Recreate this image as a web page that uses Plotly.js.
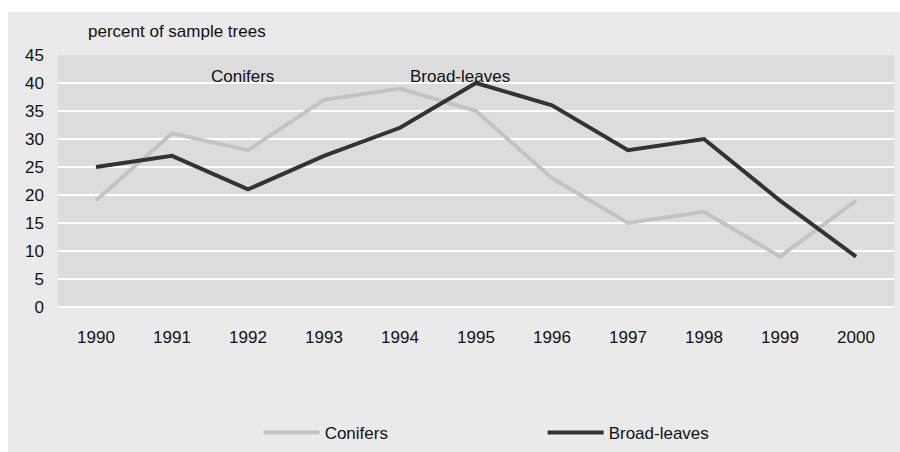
<!DOCTYPE html>
<html>
<head>
<meta charset="utf-8">
<script src="https://cdn.plot.ly/plotly-3.0.1.min.js"></script>
<style>
  html, body { margin: 0; padding: 0; background: #ffffff; width: 900px; height: 452px; overflow: hidden; }
  #chart { position: absolute; left: 8px; top: 12px; width: 892px; height: 440px; }
</style>
</head>
<body>
<div id="chart"></div>
<script>
// Share of sample trees, by year
const years = ['1990','1991','1992','1993','1994','1995','1996','1997','1998','1999','2000'];
const conifers = [19, 31, 28, 37, 39, 35, 23, 15, 17, 9, 19];
const broadLeaves = [25, 27, 21, 27, 32, 40, 36, 28, 30, 19, 9];
const yTicks = [0, 5, 10, 15, 20, 25, 30, 35, 40, 45];

const FONT = 'Liberation Sans, Arial, sans-serif';
const txt = { family: FONT, size: 17, color: '#111111' };

const traces = [
  {
    x: years, y: conifers, name: 'Conifers', type: 'scatter', mode: 'lines',
    line: { color: '#c3c3c3', width: 4 }
  },
  {
    x: years, y: broadLeaves, name: 'Broad-leaves', type: 'scatter', mode: 'lines',
    line: { color: '#333333', width: 4 }
  }
];

const layout = {
  width: 892, height: 440,
  margin: { l: 50, r: 6, t: 43, b: 145, autoexpand: false },
  paper_bgcolor: '#eaeaea',
  plot_bgcolor: '#dcdcdc',
  font: txt,
  showlegend: true,
  legend: {
    orientation: 'h',
    x: 0.24, xanchor: 'left',
    y: -0.50, yanchor: 'middle',
    bgcolor: 'rgba(0,0,0,0)',
    font: txt,
    itemwidth: 56,
    entrywidth: 213, entrywidthmode: 'pixels',
    itemclick: false
  },
  xaxis: {
    type: 'category',
    range: [-0.5, 10.5],
    showgrid: false, zeroline: false, showline: false,
    ticks: '', ticklabelstandoff: 18,
    tickfont: txt, fixedrange: true
  },
  yaxis: {
    range: [0, 45],
    tickvals: yTicks,
    showgrid: true, gridcolor: '#ffffff', gridwidth: 2,
    zeroline: true, zerolinecolor: '#ffffff', zerolinewidth: 2,
    showline: false, ticks: '', ticklabelstandoff: 13,
    tickfont: txt, fixedrange: true
  },
  annotations: [
    { xref: 'paper', yref: 'paper', x: 0.034, y: 1.095, xanchor: 'left', yanchor: 'middle',
      text: 'percent of sample trees', showarrow: false, font: txt },
    { xref: 'x', yref: 'y', x: 1.93, y: 41.1, xanchor: 'center', yanchor: 'middle',
      text: 'Conifers', showarrow: false, font: txt },
    { xref: 'x', yref: 'y', x: 4.79, y: 41.1, xanchor: 'center', yanchor: 'middle',
      text: 'Broad-leaves', showarrow: false, font: txt }
  ]
};

Plotly.newPlot('chart', traces, layout, { displayModeBar: false, staticPlot: true });
</script>
</body>
</html>
